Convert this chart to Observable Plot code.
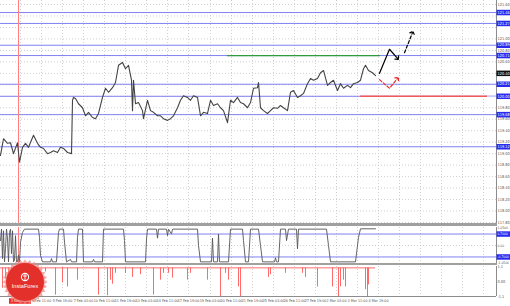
<!DOCTYPE html>
<html><head><meta charset="utf-8">
<script src="https://cdn.jsdelivr.net/npm/d3@7"></script>
<script src="https://cdn.jsdelivr.net/npm/@observablehq/plot@0.6"></script>
<style>
body{margin:0;background:#fff;}
#c{position:relative;width:510px;height:306px;overflow:hidden;background:#fff;font-family:"Liberation Sans",Arial,sans-serif;}
#c svg{position:absolute;left:0;}
.sep{position:absolute;left:0;width:497px;background:#a0a0a0;}
</style></head><body><div id="c"></div>
<script>
// ---- data ----
const dateLabels = ["3 Feb 03:00","4 Feb 11:00","5 Feb 19:00","7 Feb 03:00","10 Feb 11:00","11 Feb 19:00","13 Feb 03:00","14 Feb 11:00","17 Feb 19:00","19 Feb 03:00","20 Feb 11:00","21 Feb 19:00","25 Feb 03:00","26 Feb 11:00","27 Feb 19:00","2 Mar 03:00","3 Mar 11:00","4 Mar 19:00"];
const datePos = [20,41,62,83,104,125,146,167,188,210,231,252,273,294,315,336,357,378];
const gridX = [20,41,62,83,104,125,146,167,188,210,231,252,273,294,315,336,357,378,399,420,441,462,483];
const priceTicks = [121.60,121.40,121.20,121.00,120.80,120.60,120.40,120.20,120.00,119.80,119.60,119.40,119.20,119.00,118.80,118.60,118.40,118.20,118.00,117.80];
const priceTickLabels = [121.60,121.00,120.80,120.60,119.80,119.60,119.40,119.20,119.00,118.80,118.60,118.40,118.20,118.00,117.80];
const levels = [121.46,121.27,120.89,120.71,120.21,120.00,119.68,119.12];
const greenLevel = 120.71;
const redLevel = 120.00;
const lastPrice = 120.40;
const markerBar = 18;

const priceX = [0,3,7,10,13,17,19,22,25,28,33,37,40,43,47,50,53,57,60,63,67,71,72,73,75,78,82,85,88,92,95,98,102,105,108,112,115,118,122,125,128,131,132,133,135,138,142,143,147,150,153,157,160,163,167,170,173,177,180,183,187,190,193,197,200,203,207,210,213,217,220,223,227,230,233,237,240,243,247,250,253,257,258,260,263,267,270,273,277,280,283,287,290,293,297,300,303,307,310,313,317,320,323,327,330,333,337,340,343,347,350,353,357,360,363,365,368,372,375];
const priceClose = [118.97,119.26,119.18,119.19,119.00,119.19,118.85,119.11,119.18,119.11,119.32,119.18,119.11,119.09,119.00,119.02,119.05,119.02,119.11,119.09,119.02,119.00,119.93,119.98,119.96,119.87,119.80,119.66,119.72,119.63,119.61,119.70,119.98,120.14,120.07,120.15,120.24,120.54,120.59,120.48,120.54,120.28,119.75,120.28,119.87,119.89,119.75,119.61,119.93,119.75,119.72,119.66,119.66,119.61,119.58,119.61,119.66,119.80,119.93,120.01,119.98,119.93,120.01,119.98,119.66,119.72,119.70,119.93,119.84,119.87,119.80,119.75,119.54,119.93,119.89,119.98,119.89,119.87,119.80,119.89,120.14,120.15,120.24,119.80,119.75,119.70,119.75,119.80,119.79,119.84,119.80,119.75,120.07,120.10,119.98,120.01,120.05,120.22,120.31,120.28,120.31,120.41,120.45,120.19,120.24,120.28,120.10,120.22,120.14,120.19,120.15,120.22,120.24,120.28,120.48,120.54,120.45,120.41,120.36];

const upArrowX = [379,389,397];
const upArrowY = [120.40,120.82,120.66];
const upDashX = [404,412];
const upDashY = [120.76,121.11];
const downDashX = [379,389,397];
const downDashY = [120.29,120.14,120.31];

const oscX = [0,1,2,3,4,5,6,7,8,9,10,11,12,13,14,15,16,17,18,19,20,22,24,38,39,40,42,50,51,52,56,58,59,63,64,66,70,71,76,77,78,82,83,92,93,94,102,103,123,124,125,145,146,147,156,157,158,166,167,168,171,172,197,198,200,211,212,213,217,218,219,228,230,242,243,245,248,250,258,260,262,274,275,276,278,280,285,286,288,296,297,298,326,328,330,355,358,360,375];
const oscV = [0.3,1,-0.8,0.9,-1,-0.2,1,0.4,-1,0.8,1,-0.5,0.9,-1,-0.9,0.6,-1,-1,-0.6,-1,0.2,0.8,1,1,0.5,-0.6,-1,-1,-0.8,-1,-1,0.8,1,1,0.2,-1,-0.85,-1,-1,0.5,1,1,-1,-1,-0.85,-1,-1,1,1,0.3,-1,-1,0.4,1,1,0.45,1,1,0.6,1,0.7,1,1,0,-1,-1,0.45,-1,-1,0.7,-1,-1,1,1,0.3,-1,-1,1,1,0,-1,-1,-0.75,-1,-1,1,1,0.3,1,1,-0.2,1,1,0,-1,-1,0.5,1.02,1.02];
const oscLevels = [0.7,-0.7];
const oscTicks = [1.05,0,-1.05];
const oscTickText = ["1.0506","0.00","-1.0506"];

const sigBase = 1.0;
const sigEnd = 375;
const sigTicks = [1.1,0,-1.1];
const sigTickText = ["1.1","0.00","-1.1"];
const spikeX = [2,5,8,11,13,16,21,25,29,33,38,45,55,62,67,77,98,107,110,112,115,125,132,140,153,160,163,168,172,187,190,207,220,225,228,238,240,268,270,285,302,305,317,332,338,340,343,345,365,367,368];
const spikeV = [-0.5,0.2,-0.4,0.3,-0.7,0.0,-0.3,0.4,-0.2,0.5,0.6,0.7,-1.0,-0.1,-0.4,0.1,-1.0,-1.05,0.1,-0.2,0.6,0.6,0.3,0.5,-1.0,0.1,0.6,0.6,0.25,0.1,0.6,0.1,-1.1,0.6,0.1,-0.4,-1.1,0.3,0.5,0.6,0.6,0.3,-0.4,-0.4,-1.1,-0.4,0.1,-0.4,-0.6,-1.1,-0.25];

// ---- helpers ----
const price = priceX.map((x,i)=>({x, y: priceClose[i]}));
const osc = oscX.map((x,i)=>({x, y: oscV[i]}));
const spikes = spikeX.map((x,i)=>({x, y: spikeV[i]}));
const pts = (xs,ys)=>xs.map((x,i)=>({x,y:ys[i]}));
const fmt2 = d=>d.toFixed(2);
const grid = {stroke:"#c4c4c4", strokeDasharray:"1,2", strokeWidth:0.8};
const axisX = 496;
const lblX = 497;
const narrow = "Liberation Sans Narrow, DejaVu Sans Condensed, Arial Narrow, sans-serif";
const lbl = {textAnchor:"start", fontSize:3.9, fontFamily:narrow};
const lblS = {textAnchor:"start", fontSize:3.3, fontFamily:narrow};
const base = {width:510, marginLeft:0, marginRight:14, style:{background:"transparent", fontFamily:narrow}};
const c = document.getElementById("c");
function place(svg, top){ svg.style.top = top+"px"; c.appendChild(svg); }

// ---- main price panel ----
const p1 = Plot.plot({...base, height:224, marginTop:0, marginBottom:1,
  x:{domain:[0,axisX], axis:null}, y:{domain:[117.782,121.67], axis:null},
  marks:[
    Plot.ruleY(priceTicks, {x1:0, x2:axisX, ...grid}),
    Plot.ruleX(gridX, grid),
    Plot.ruleY(levels, {x1:0, x2:axisX, stroke:"#8080f2", strokeWidth:1}),
    Plot.ruleY([greenLevel], {x1:227, x2:380, stroke:"#2f9b3a", strokeWidth:1.2}),
    Plot.ruleY([redLevel], {x1:360, x2:487, stroke:"#f05a5a", strokeWidth:1.6}),
    Plot.ruleY([redLevel], {x1:487, x2:axisX, stroke:"#c8c8fa", strokeWidth:1.6}),
    Plot.ruleX([markerBar], {stroke:"#ff7f7f", strokeWidth:1}),
    Plot.line(price, {x:"x", y:"y", stroke:"#444", strokeWidth:1.1}),
    Plot.line(pts(upArrowX,upArrowY), {x:"x", y:"y", stroke:"#000", strokeWidth:1.2, markerEnd:"arrow"}),
    Plot.line(pts(upDashX,upDashY), {x:"x", y:"y", stroke:"#000", strokeWidth:1.2, strokeDasharray:"3,2", markerEnd:"arrow"}),
    Plot.line(pts(downDashX,downDashY), {x:"x", y:"y", stroke:"#e8282b", strokeWidth:1.2, strokeDasharray:"3,2", markerEnd:"arrow"}),
    Plot.ruleX([axisX], {stroke:"#8c8c8c", strokeWidth:1}),
    Plot.text(priceTickLabels, {x:lblX, y:d=>d, text:fmt2, fill:"#555", ...lbl}),
    Plot.ruleY(levels, {x1:496.5, x2:510, stroke:"#2b2bf0", strokeWidth:5.5}),
    Plot.text(levels, {x:lblX, y:d=>d, text:fmt2, fill:"#fff", ...lbl}),
    Plot.ruleY([lastPrice], {x1:496.5, x2:510, stroke:"#111", strokeWidth:5.5}),
    Plot.text([lastPrice], {x:lblX, y:d=>d, text:fmt2, fill:"#fff", ...lbl})
  ]});
place(p1, 0);

// ---- oscillator panel ----
const p2 = Plot.plot({...base, height:39, marginTop:2, marginBottom:1,
  x:{domain:[0,axisX], axis:null}, y:{domain:[-1.1,1.1], axis:null},
  marks:[
    Plot.ruleX(gridX, grid),
    Plot.ruleY([0], {x1:0, x2:axisX, ...grid}),
    Plot.ruleY(oscLevels, {x1:0, x2:axisX, stroke:"#8080f2", strokeWidth:1}),
    Plot.ruleX([markerBar], {stroke:"#ff7f7f", strokeWidth:1}),
    Plot.line(osc, {x:"x", y:"y", stroke:"#555", strokeWidth:0.9}),
    Plot.ruleX([axisX], {stroke:"#8c8c8c", strokeWidth:1}),
    Plot.text(oscTicks, {x:lblX, y:d=>d, text:(d,i)=>oscTickText[i], fill:"#555", ...lblS}),
    Plot.ruleY(oscLevels, {x1:496.5, x2:510, stroke:"#2b2bf0", strokeWidth:5.5}),
    Plot.text(oscLevels, {x:lblX, y:d=>d, text:d=>d.toFixed(4), fill:"#fff", ...lblS})
  ]});
place(p2, 225);

// ---- signal panel ----
const p3 = Plot.plot({...base, height:41, marginTop:2, marginBottom:9,
  x:{domain:[0,axisX], axis:null}, y:{domain:[-1.1,1.1], axis:null},
  marks:[
    Plot.ruleX(gridX, grid),
    Plot.ruleX([markerBar], {stroke:"#ff7f7f", strokeWidth:1}),
    Plot.ruleY([sigBase], {x1:0, x2:sigEnd, stroke:"#ff6b6b", strokeWidth:1}),
    Plot.ruleX(spikes, {x:"x", y1:sigBase, y2:"y", stroke:"#ff6b6b", strokeWidth:1}),
    Plot.ruleX([axisX], {stroke:"#8c8c8c", strokeWidth:1}),
    Plot.ruleY([-1.1], {x1:0, x2:axisX, stroke:"#8c8c8c", strokeWidth:1}),
    Plot.text(sigTicks, {x:lblX, y:d=>d, text:(d,i)=>sigTickText[i], fill:"#555", ...lbl}),
    Plot.text(dateLabels.slice(1), {x:(d,i)=>datePos[i+1], y:-1.1, dy:4.5, text:d=>d, fill:"#555", fontSize:3.7, fontFamily:narrow}),
    Plot.ruleY([-1.1], {x1:9, x2:31, dy:4.5, stroke:"#ee2a2a", strokeWidth:5.5}),
    Plot.text([dateLabels[0]], {x:datePos[0], y:-1.1, dy:4.5, text:d=>d, fill:"#fff", fontSize:3.7, fontFamily:narrow})
  ]});
place(p3, 264);

// separators
for (const [t,h] of [[223,2.5],[262.5,2]]) {
  const d = document.createElement("div"); d.className="sep"; d.style.top=t+"px"; d.style.height=h+"px"; c.appendChild(d);
}

// InstaForex badge
const ns="http://www.w3.org/2000/svg";
const logo = document.createElementNS(ns,"svg");
logo.setAttribute("width","54"); logo.setAttribute("height","52");
logo.style.left="0px"; logo.style.top="256px";
const cx=25, cy=26;
let pp=[];
for(let k=0;k<56;k++){const r=k%2?19.5:22.5; const a=k*Math.PI/28; pp.push((cx+r*Math.cos(a)).toFixed(2)+","+(cy+r*Math.sin(a)).toFixed(2));}
logo.innerHTML = `<polygon points="${pp.join(" ")}" fill="#f08a86" opacity="0.75"/>
<circle cx="${cx}" cy="${cy}" r="19" fill="#e3302b"/>
<circle cx="${cx}" cy="${cy-5}" r="3.6" fill="none" stroke="#fff" stroke-width="1.1"/>
<path d="M${cx} ${cy-9} V${cy-1} M${cx-2} ${cy-6} H${cx+2}" stroke="#fff" stroke-width="0.9"/>
<text x="${cx}" y="${cy+6}" text-anchor="middle" fill="#fff" font-size="5.6" font-family="Liberation Sans, Arial, sans-serif">InstaForex</text>`;
c.appendChild(logo);
</script></body></html>
